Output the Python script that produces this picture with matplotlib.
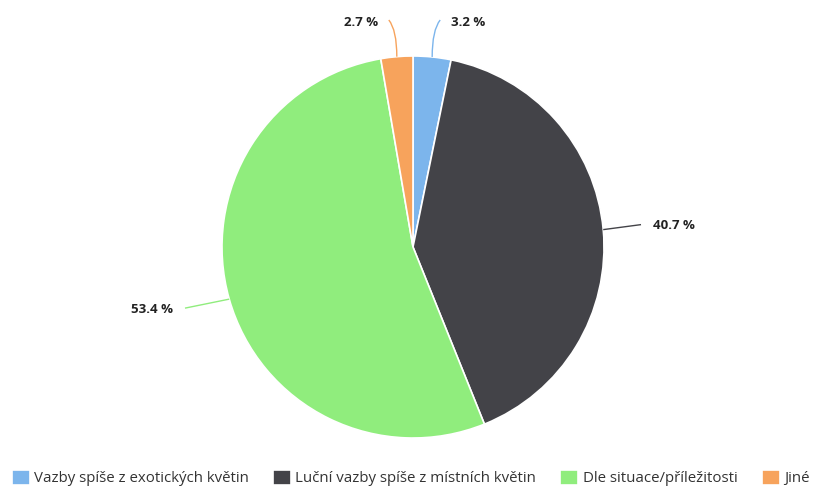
import numpy as np
import matplotlib.pyplot as plt
from matplotlib.path import Path
from matplotlib.patches import PathPatch

plt.rcParams['font.family'] = ['Open Sans', 'DejaVu Sans']

labels = ['Vazby spíše z exotických květin', 'Luční vazby spíše z místních květin',
          'Dle situace/příležitosti', 'Jiné']
values = [3.2, 40.7, 53.4, 2.7]
colors = ['#7cb5ec', '#434348', '#90ed7d', '#f7a35c']

W, H = 813, 487
cx, cy, r = 413, 247, 191

fig = plt.figure(figsize=(W / 100, H / 100), dpi=100)
ax = fig.add_axes([0, 0, 1, 1])
ax.axis('off')

wedges, _ = ax.pie(values, colors=colors, startangle=90, counterclock=False,
                   center=(cx, H - cy), radius=r,
                   wedgeprops=dict(edgecolor='white', linewidth=1.2))
ax.set_xlim(0, W)
ax.set_ylim(0, H)
ax.set_aspect('equal')

# data labels with connectors
total = sum(values)
start = 0
for v, c in zip(values, colors):
    mid = (start + v / 2) / total * 2 * np.pi
    start += v
    sx, sy = cx + r * np.sin(mid), cy - r * np.cos(mid)
    side = 1 if np.sin(mid) > 0 else -1
    if sy < 80:
        # top labels pushed up to the first row
        ex, ey = sx + side * 8, 20
        verts = [(sx, H - sy), (sx, H - 30), (ex, H - ey)]
        tx, ty = ex + side * 11, 22
    else:
        ex = cx + side * 228
        ey = sy - 5 if side > 0 else sy + 9
        verts = [(sx, H - sy), ((sx + ex) / 2, H - (sy + ey) / 2), (ex, H - ey)]
        tx, ty = ex + side * 12, ey + 1
    path = Path(verts, [Path.MOVETO, Path.CURVE3, Path.CURVE3])
    ax.add_patch(PathPatch(path, fill=False, edgecolor=c, lw=1))
    ax.text(tx, H - ty, f'{v:.1f} %', ha='left' if side > 0 else 'right',
            va='center', fontsize=9.5, fontweight='bold', color='#222222')

fig.legend(wedges, labels, loc='center', bbox_to_anchor=(0.505, 1 - 478 / H), ncol=4,
           frameon=False, fontsize=10.8, handlelength=1.2, handleheight=1.2,
           handletextpad=0.3, columnspacing=1.6, labelcolor='#333333')

fig.savefig('out.png', dpi=100)
